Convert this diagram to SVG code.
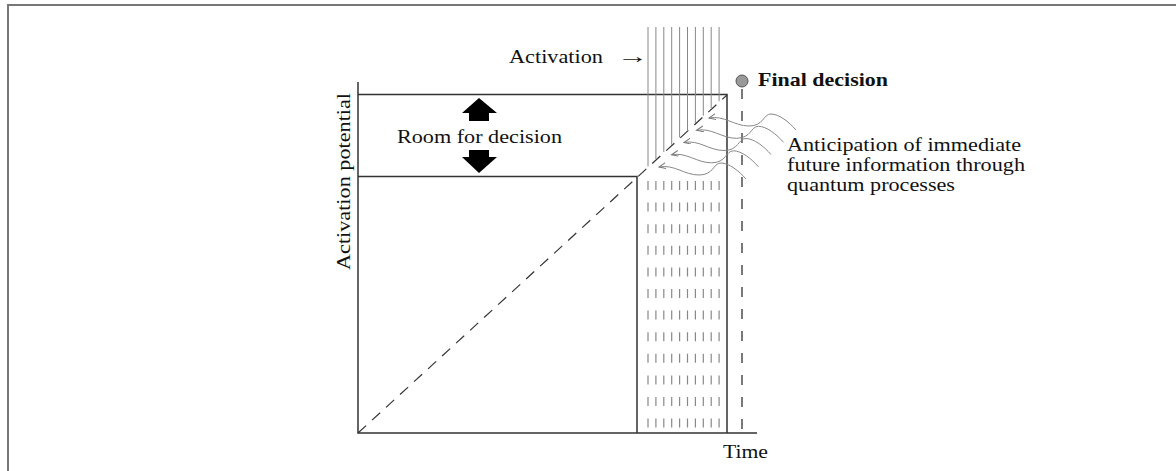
<svg xmlns="http://www.w3.org/2000/svg" width="1176" height="471" viewBox="0 0 1176 471">
  <style>
    .frame { stroke: #777; stroke-width: 2; fill: none; }
    .axis { stroke: #333; stroke-width: 1.5; fill: none; }
    .diag { stroke: #333; stroke-width: 1.2; stroke-dasharray: 11 8; fill: none; }
    .act { stroke: #888; stroke-width: 1; fill: none; }
    .hatch { stroke: #888; stroke-width: 1.2; stroke-dasharray: 9 12.6; fill: none; }
    .decline { stroke: #333; stroke-width: 1.3; stroke-dasharray: 10 12; fill: none; }
    .wave { stroke: #888; stroke-width: 1; fill: none; marker-end: url(#barb); }
    .lbl { font-family: "Liberation Serif", "Times New Roman", serif; font-size: 19.5px; fill: #111; }
    .bold { font-weight: bold; }
    .bigarrow { fill: #000; }
  </style>
  <defs>
    <marker id="barb" markerUnits="userSpaceOnUse" markerWidth="8" markerHeight="8" refX="7" refY="3" orient="auto">
      <path d="M0,0 L7,3 L0,6" stroke="#777" stroke-width="1" fill="none"/>
    </marker>
    <path id="wavePath" d="M87,12 C80,4 70,-4 62,-4 C54,-4 55,8 40,8 C25,8 15,-3 0,0"/>
  </defs>

  <rect width="1176" height="471" fill="#fff"/>

  <!-- outer frame (top and left edges) -->
  <path class="frame" d="M8,471 L8,5 L1176,5"/>

  <!-- chart body -->
  <g id="chart">
    <path class="axis" d="M358,82 L358,433 L757,433"/>
    <path class="axis" d="M358,94.5 L727,94.5 L727,433"/>
    <path class="axis" d="M358,176.5 L637,176.5 L637,433"/>
    <line class="diag" x1="358" y1="433" x2="727" y2="95"/>
  </g>

  <!-- incoming activation lines, ending on the threshold ramp -->
  <g id="activation-lines">
    <line class="act" x1="648" y1="27" x2="648" y2="166.4"/>
    <line class="act" x1="655.9" y1="27" x2="655.9" y2="159.1"/>
    <line class="act" x1="663.8" y1="27" x2="663.8" y2="151.9"/>
    <line class="act" x1="671.7" y1="27" x2="671.7" y2="144.7"/>
    <line class="act" x1="679.6" y1="27" x2="679.6" y2="137.4"/>
    <line class="act" x1="687.5" y1="27" x2="687.5" y2="130.2"/>
    <line class="act" x1="695.4" y1="27" x2="695.4" y2="122.9"/>
    <line class="act" x1="703.3" y1="27" x2="703.3" y2="115.7"/>
    <line class="act" x1="711.2" y1="27" x2="711.2" y2="108.5"/>
    <line class="act" x1="719.1" y1="27" x2="719.1" y2="101.2"/>
  </g>

  <!-- hatched window -->
  <g id="hatch">
    <line class="hatch" x1="648" y1="181" x2="648" y2="433"/>
    <line class="hatch" x1="655.9" y1="181" x2="655.9" y2="433"/>
    <line class="hatch" x1="663.8" y1="181" x2="663.8" y2="433"/>
    <line class="hatch" x1="671.7" y1="181" x2="671.7" y2="433"/>
    <line class="hatch" x1="679.6" y1="181" x2="679.6" y2="433"/>
    <line class="hatch" x1="687.5" y1="181" x2="687.5" y2="433"/>
    <line class="hatch" x1="695.4" y1="181" x2="695.4" y2="433"/>
    <line class="hatch" x1="703.3" y1="181" x2="703.3" y2="433"/>
    <line class="hatch" x1="711.2" y1="181" x2="711.2" y2="433"/>
    <line class="hatch" x1="719.1" y1="181" x2="719.1" y2="433"/>
  </g>

  <!-- room-for-decision arrows -->
  <g id="room-arrows">
    <path class="bigarrow" d="M479,98 L497,113 L489,113 L489,121 L469,121 L469,113 L462,113 Z"/>
    <path class="bigarrow" d="M469,150 L489,150 L489,157 L497,157 L479,173 L462,157 L469,157 Z"/>
  </g>

  <!-- final decision marker -->
  <g id="final-decision">
    <line class="decline" x1="742" y1="89" x2="742" y2="433"/>
    <circle cx="742" cy="81" r="6" fill="#999" stroke="#555" stroke-width="1"/>
    <text class="lbl bold" x="758" y="86" textLength="130" lengthAdjust="spacingAndGlyphs">Final decision</text>
  </g>

  <!-- anticipation waves -->
  <g id="connectors">
    <use href="#wavePath" class="wave" transform="translate(709,118)"/>
    <use href="#wavePath" class="wave" transform="translate(696.5,130.3)"/>
    <use href="#wavePath" class="wave" transform="translate(684,142.5)"/>
    <use href="#wavePath" class="wave" transform="translate(671.5,154.8)"/>
    <use href="#wavePath" class="wave" transform="translate(659,167)"/>
  </g>

  <!-- labels -->
  <g id="labels">
    <text class="lbl" x="509" y="63" textLength="94" lengthAdjust="spacingAndGlyphs">Activation</text>
    <text class="lbl" transform="translate(617,63) scale(1.6,1)" x="0" y="0">→</text>
    <text class="lbl" x="397" y="142.5" textLength="165" lengthAdjust="spacingAndGlyphs">Room for decision</text>
    <text class="lbl" transform="translate(350,270) rotate(-90)" x="0" y="0" textLength="177" lengthAdjust="spacingAndGlyphs">Activation potential</text>
    <text class="lbl" x="723" y="458" textLength="45" lengthAdjust="spacingAndGlyphs">Time</text>
    <text class="lbl" x="787" y="151" textLength="234" lengthAdjust="spacingAndGlyphs">Anticipation of immediate</text>
    <text class="lbl" x="787" y="171" textLength="238" lengthAdjust="spacingAndGlyphs">future information through</text>
    <text class="lbl" x="787" y="191" textLength="168" lengthAdjust="spacingAndGlyphs">quantum processes</text>
  </g>
</svg>
